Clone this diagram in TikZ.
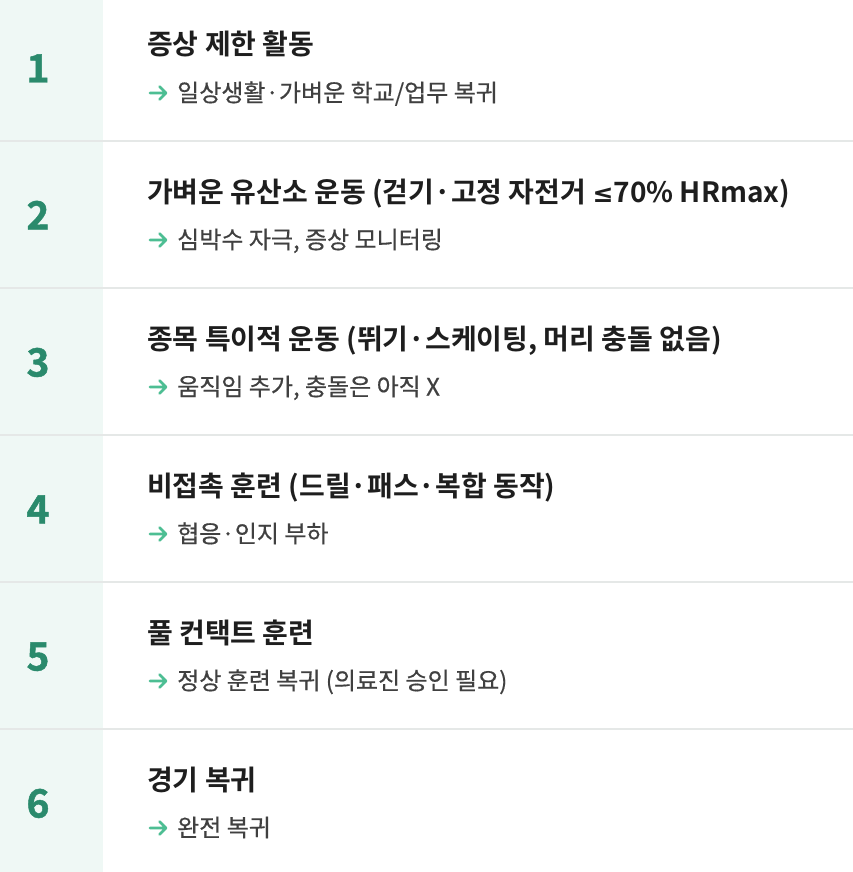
\documentclass[tikz,border=0pt]{standalone}
\usepackage{fontspec}
\setmainfont{Noto Sans CJK KR}
\newfontfamily\kr[FakeBold=0.5]{Noto Sans CJK KR}
\newfontfamily\krb{Noto Sans CJK KR Bold}
\newfontfamily\krnum[FakeBold=1.2]{Noto Sans CJK KR Bold}
\newfontfamily\symb{DejaVu Sans Bold}
\newcommand{\myle}{{\symb\fontsize{25}{28}\selectfont ≤}}
\definecolor{panel}{HTML}{EFF8F5}
\definecolor{sep}{HTML}{E5E8E7}
\definecolor{numc}{HTML}{2A8A6C}
\definecolor{arrc}{HTML}{4DBE93}
\definecolor{titc}{HTML}{1E1E1E}
\definecolor{subc}{HTML}{404040}
\tikzset{
  numtxt/.style={anchor=base, text=numc, font=\krnum\fontsize{39}{42}\selectfont, inner sep=0pt},
  tittxt/.style={anchor=base west, text=titc, font=\krb\fontsize{28}{32}\selectfont, inner sep=0pt},
  subtxt/.style={anchor=base west, text=subc, font=\kr\fontsize{24}{28}\selectfont, inner sep=0pt},
  sepline/.style={draw=sep, line width=2pt},
  arrowicon/.style={draw=arrc, line width=2.6pt, line cap=round, line join=round},
}
\begin{document}
\begin{tikzpicture}[x=1pt,y=1pt]
\useasboundingbox (0,0) rectangle (853,-872);
\fill[white] (0,0) rectangle (853,-872);
\fill[panel] (0,0) rectangle (103,-872);
\foreach \y in {141,288,435,582,729} {
  \draw[sepline] (0,-\y) -- (853,-\y);
}
\foreach \i/\num/\tit/\sub in {
  0/1/{증상 제한 활동}/{일상생활·가벼운 학교/업무 복귀},
  1/2/{가벼운 유산소 운동 (걷기·고정 자전거 \myle70\% HRmax)}/{심박수 자극, 증상 모니터링},
  2/3/{종목 특이적 운동 (뛰기·스케이팅, 머리 충돌 없음)}/{움직임 추가, 충돌은 아직 X},
  3/4/{비접촉 훈련 (드릴·패스·복합 동작)}/{협응·인지 부하},
  4/5/{풀 컨택트 훈련}/{정상 훈련 복귀 (의료진 승인 필요)},
  5/6/{경기 복귀}/{완전 복귀}} {
  \pgfmathsetmacro{\top}{-6+147*\i}
  \node[numtxt] (n\num) at (38,-\top-88.5) {\num};
  \node[tittxt] (t\num) at (147,-\top-61) {\tit};
  \node[subtxt] (s\num) at (177,-\top-107.5) {\sub};
  \coordinate (a\num) at (150,-\top-99);
  \draw[arrowicon] (a\num) -- ++(16,0) ++(-6.5,6.5) -- ++(6.5,-6.5) -- ++(-6.5,-6.5);
}
\end{tikzpicture}
\end{document}
